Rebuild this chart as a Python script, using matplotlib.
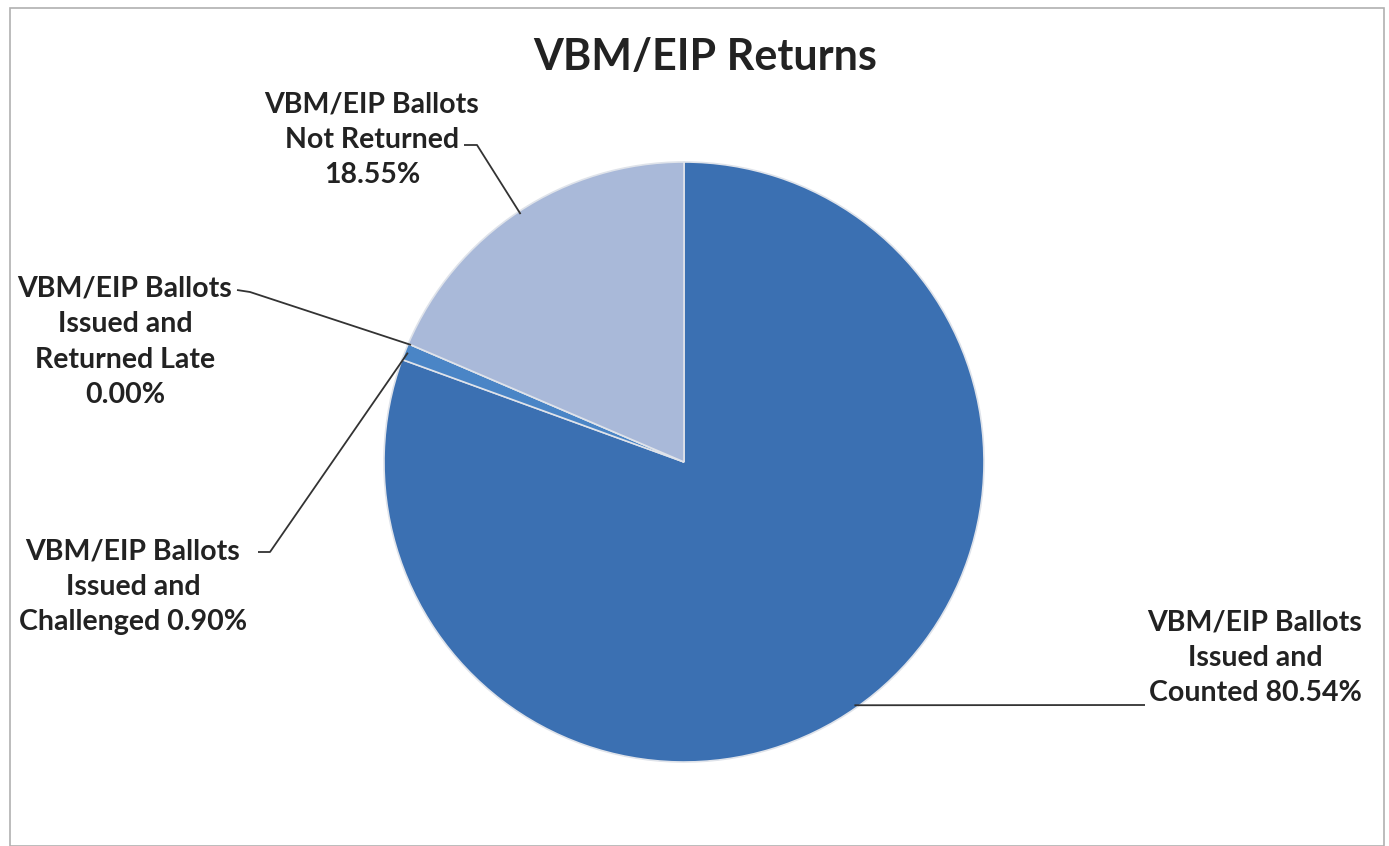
import numpy as np
import matplotlib
matplotlib.use("Agg")
from matplotlib import pyplot as plt
from matplotlib.patches import Rectangle

plt.rcParams['font.family'] = ['Lato', 'DejaVu Sans']

categories = ['VBM/EIP Ballots\nIssued and\nCounted 80.54%',
              'VBM/EIP Ballots\nIssued and\nChallenged 0.90%',
              'VBM/EIP Ballots\nIssued and\nReturned Late\n0.00%',
              'VBM/EIP Ballots\nNot Returned\n18.55%']
values = [80.54, 0.90, 0.00, 18.55]
colors = ['#3b70b2', '#4a85c6', '#8aa6d0', '#a9b9d9']

W, H = 1389, 846
cx, cy, R = 684, 462, 300   # pie centre / radius in pixels

fig = plt.figure(figsize=(W / 100, H / 100), dpi=100)
ax = fig.add_axes([0, 0, 1, 1])

def px(x, y):
    return (x - cx) / R, (cy - y) / R

wedges, _ = ax.pie(values, startangle=90, counterclock=False, colors=colors,
                   radius=1.0, center=(0, 0),
                   wedgeprops=dict(edgecolor='#dfe3ea', linewidth=1.2))
# pie() resets limits, so set them afterwards
ax.set_xlim(-cx / R, (W - cx) / R)
ax.set_ylim(-(H - cy) / R, cy / R)
ax.set_aspect('equal', adjustable='datalim')
ax.axis('off')

# label text position (pixels), text-side line start, elbow
label_pos = [(1255, 658), (133, 587), (125, 342), (372, 140)]
line_start = [(1145, 705), (258, 552), (237, 290), (464, 145)]
line_elbow = [(1135, 705), (270, 552), (250, 292), (477, 145)]

for w, lab, p, s, e in zip(wedges, categories, label_pos, line_start, line_elbow):
    ang = np.deg2rad((w.theta1 + w.theta2) / 2)
    r_edge = 0.99
    tx, ty = px(*p)
    ax.text(tx, ty, lab, ha='center', va='center', fontsize=20.5,
            fontweight='bold', color='#222222', linespacing=1.45)
    sx, sy = px(*s)
    ex, ey = px(*e)
    ax.plot([sx, ex, r_edge * np.cos(ang)], [sy, ey, r_edge * np.sin(ang)],
            color='#333333', lw=1.3, solid_capstyle='butt')

fig.text(705 / W, 1 - 57 / H, 'VBM/EIP Returns', ha='center', va='center',
         fontsize=31, fontweight='bold', color='#222222')

fig.patches.append(Rectangle((10 / W, 0), (1384 - 10) / W, 1 - 8 / H,
                             transform=fig.transFigure, fill=False,
                             edgecolor='#b0b0b0', lw=1.2))

fig.savefig('out.png', dpi=100)
